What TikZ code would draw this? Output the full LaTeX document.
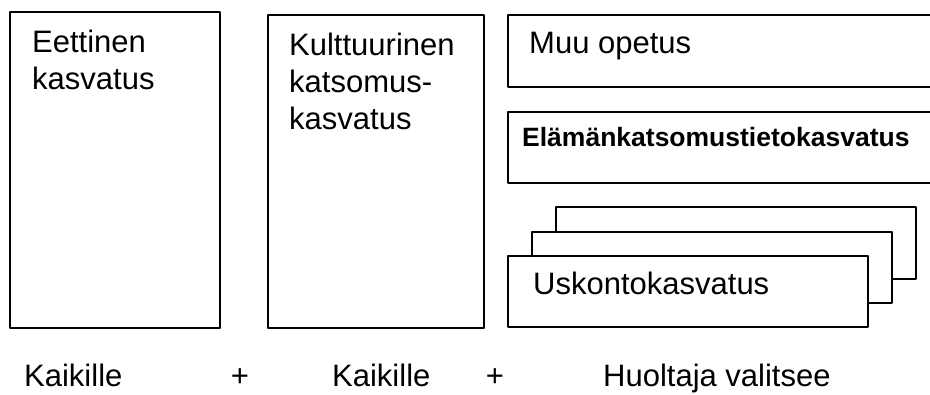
\documentclass[tikz,border=0pt]{standalone}
\usepackage{fontspec}
\setmainfont{Liberation Sans}
\begin{document}
\begin{tikzpicture}[line cap=round,line join=round,x=1pt,y=-1pt,
  box/.style={line width=2pt,fill=white},
  lbl/.style={inner sep=0pt,anchor=base west,font=\fontsize{31}{37}\selectfont},
  lbltop/.style={inner sep=0pt,anchor=north west,align=left,font=\fontsize{31}{37}\selectfont}]
\useasboundingbox (0,0) rectangle (930,395);
\clip (0,0) rectangle (930,395);
% two columns for everybody
\draw [box] (10,12) rectangle (220,328);
\draw [box] (268,15) rectangle (484,328);
% third column
\draw [box] (508,15) rectangle (945,87);
\draw [box] (508,112) rectangle (945,183);
\draw [box] (556,207) rectangle (916,279);
\draw [box] (532,232) rectangle (892,303);
\draw [box] (508,256) rectangle (868,327);
\node [lbltop] (eet) at (32,30) {Eettinen\\kasvatus};
\node [lbltop] (kul) at (289,33) {Kulttuurinen\\katsomus-\\kasvatus};
\node [lbl] (muu) at (529,54) {Muu opetus};
\node [lbl,font=\fontsize{26.5}{32}\selectfont\bfseries] (elt) at (522,147) {Elämänkatsomustietokasvatus};
\node [lbl] (usk) at (533,295) {Uskontokasvatus};
% bottom row
\node [lbl] (kai1) at (24,387) {Kaikille};
\node [lbl,anchor=base] (plus1) at (240,387) {+};
\node [lbl] (kai2) at (332,387) {Kaikille};
\node [lbl,anchor=base] (plus2) at (495,387) {+};
\node [lbl] (huo) at (603,387) {Huoltaja valitsee};
\end{tikzpicture}
\end{document}
